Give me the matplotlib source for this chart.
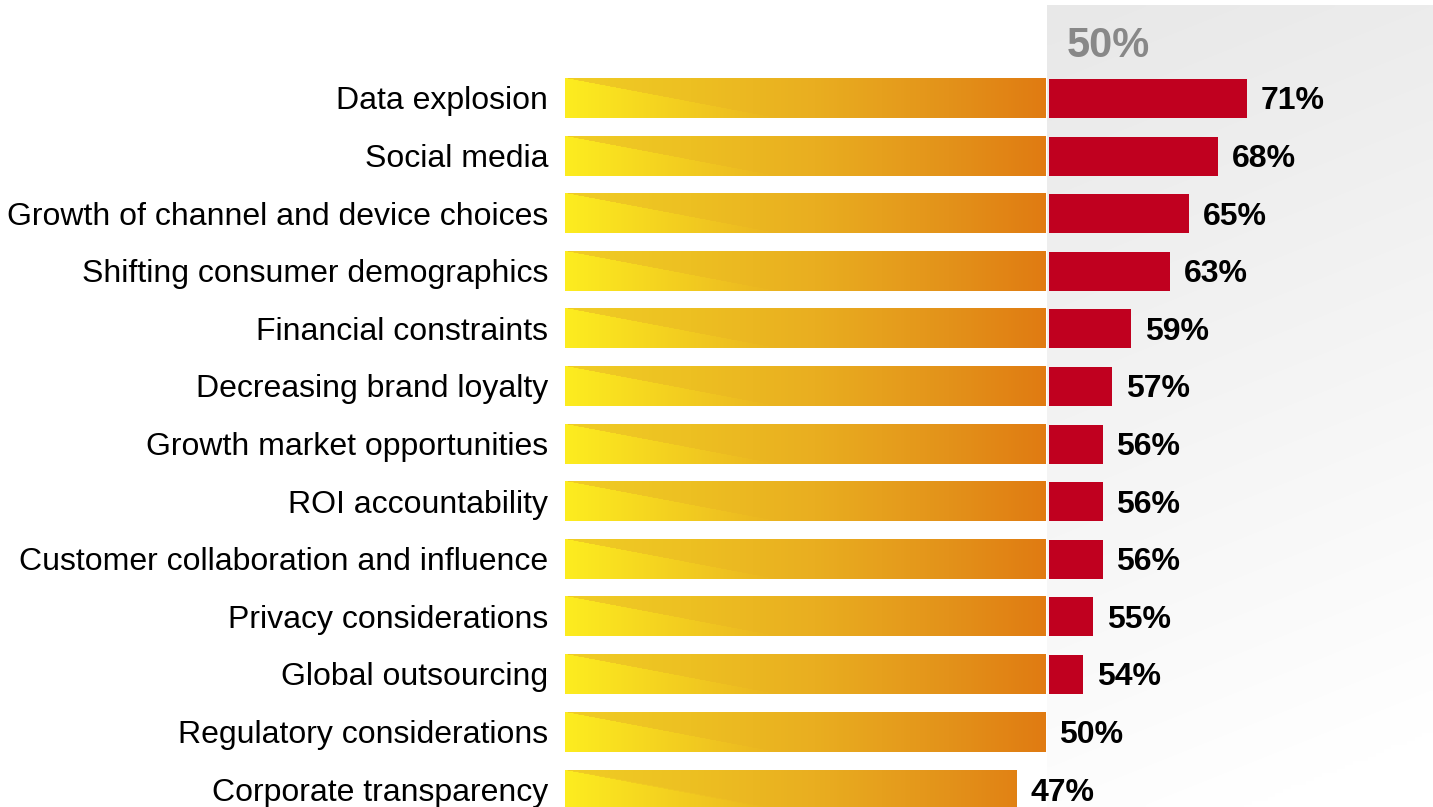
"""
Horizontal bar chart of forces affecting marketing, share of respondents.
Bars above the 50% line are split: gradient up to 50%, red beyond.
"""

import matplotlib.pyplot as plt
import numpy as np
from matplotlib.colors import LinearSegmentedColormap, to_rgb

plt.rcParams["font.family"] = ["Liberation Sans", "DejaVu Sans"]

factors = [
    "Data explosion",
    "Social media",
    "Growth of channel and device choices",
    "Shifting consumer demographics",
    "Financial constraints",
    "Decreasing brand loyalty",
    "Growth market opportunities",
    "ROI accountability",
    "Customer collaboration and influence",
    "Privacy considerations",
    "Global outsourcing",
    "Regulatory considerations",
    "Corporate transparency",
]
shares = [71, 68, 65, 63, 59, 57, 56, 56, 56, 55, 54, 50, 47]
threshold = 50

RED = "#C0001F"
BAR_H = 0.68
GAP = 0.4  # white seam between the gradient part and the red part
TEXT_DY = 0.05  # nudge text down so the glyphs sit on the bar centre

# base gradient along the bar, and the brighter lower-left wedge
base_cmap = LinearSegmentedColormap.from_list(
    "base", [(0.0, "#F0CD25"), (0.26, "#EDC022"), (0.52, "#E9AE20"),
             (0.8, "#E3921A"), (1.0, "#E07B12")])
wedge_len = 22.0
wedge_end = np.array(base_cmap(wedge_len / threshold)[:3])
wedge_start = np.array(to_rgb("#FDED1F"))


def bar_image(width, nx=500, ny=40):
    xs = np.linspace(0, width, nx)
    fy = (np.arange(ny) + 0.5) / ny  # 0 at top edge, 1 at bottom edge
    img = np.repeat(base_cmap(xs / threshold)[None, :, :3], ny, axis=0)
    t = np.clip(xs / wedge_len, 0, 1)[:, None]
    wedge = wedge_start * (1 - t) + wedge_end * t
    for r, f in enumerate(fy):
        inside = xs < wedge_len * f
        img[r, inside] = wedge[inside]
    return img


fig = plt.figure(figsize=(14.33, 8.07), dpi=100)
ax = fig.add_axes([0, 0, 1, 1])
ax.set_xlim(-58.85, 90.42)
ax.set_ylim(12.30, -1.71)
ax.axis("off")

# shaded panel for the part above 50%
ny = 200
shade = np.linspace(232, 253, ny)[:, None] / 255
shade = np.repeat(shade, 50, axis=1)
shade = shade + np.linspace(0, 4, 50)[None, :] / 255
panel = np.dstack([np.clip(shade, 0, 1)] * 3)
ax.imshow(panel, extent=(threshold + 0.2, 90.42, 12.30, -1.62),
          aspect="auto", interpolation="bilinear", zorder=0)

ax.text(threshold + 2.3, -0.92, f"{threshold}%", fontsize=30, fontweight="bold",
        color="#888888", ha="left", va="center", zorder=3)

for i, (name, v) in enumerate(zip(factors, shares)):
    w = min(v, threshold)
    ax.imshow(bar_image(w), extent=(0, w, i + BAR_H / 2, i - BAR_H / 2),
              aspect="auto", interpolation="bilinear", zorder=2)
    if v > threshold:
        ax.barh(i, v - threshold - GAP, left=threshold + GAP, height=BAR_H,
                color=RED, zorder=2)
    ax.text(-1.75, i + TEXT_DY, name, fontsize=23, ha="right", va="center",
            zorder=3)
    ax.annotate(f"{v}%", xy=(v, i + TEXT_DY), xytext=(10, 0),
                textcoords="offset points", fontsize=23, fontweight="bold",
                ha="left", va="center", zorder=3)

fig.savefig("out.png", dpi=100)
